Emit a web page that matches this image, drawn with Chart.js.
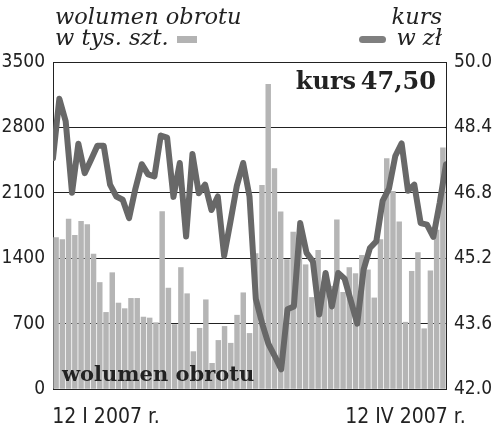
<!DOCTYPE html>
<html>
<head>
<meta charset="utf-8">
<script src="https://cdn.jsdelivr.net/npm/chart.js@4.4.1/dist/chart.umd.min.js"></script>
<style>
  html, body { margin: 0; padding: 0; background: #fff; }
  #wrap { position: relative; width: 500px; height: 434px; }
  #chart { position: absolute; left: 0; top: 0; }
  .head {
    position: absolute;
    font-family: "DejaVu Serif", serif;
    font-style: italic;
    font-size: 22.5px;
    line-height: 21px;
    color: #222;
  }
  #headLeft { left: 55px; top: 6px; }
  #headRight { right: 58px; top: 6px; text-align: right; }
  .swatch { display: inline-block; vertical-align: middle; height: 7px; }
  #swBar { width: 20px; background: #b3b3b3; margin-left: 8px; }
  #swLine { width: 27px; background: #7f7f7f; border-radius: 4px; margin-right: 10px; }
  #kursBox {
    position: absolute; right: 64px; top: 66px;
    font-family: "DejaVu Serif", serif; font-weight: bold; font-size: 24px; color: #222;
  }
  #volLabel {
    position: absolute; left: 62px; top: 361px;
    font-family: "DejaVu Serif", serif; font-weight: bold; font-size: 21px; color: #222;
  }
</style>
</head>
<body>
<div id="wrap">
  <canvas id="chart" width="500" height="434"></canvas>
  <div class="head" id="headLeft">wolumen obrotu<br>w tys. szt.<span class="swatch" id="swBar"></span></div>
  <div class="head" id="headRight">kurs<br><span class="swatch" id="swLine"></span>w zł</div>
  <div id="kursBox">kurs&#8201;47,50</div>
  <div id="volLabel">wolumen obrotu</div>
</div>
<script>
// wolumen obrotu, tys. szt. (one bar per session, 12 I - 12 IV 2007)
const volume = [
  1620, 1600, 1820, 1645, 1795, 1760, 1445, 1140, 820, 1245,
  920, 860, 970, 970, 770, 760, 710, 1900, 1080, 690,
  1300, 1020, 400, 650, 955, 275, 520, 670, 490, 790,
  1030, 595, 1450, 2180, 3260, 2360, 1895, 1385, 1680, 1650,
  1330, 980, 1485, 1150, 1100, 1810, 1035, 1300, 1235, 1430,
  1275, 975, 1600, 2465, 2115, 1790, 715, 1260, 1460, 645,
  1265, 1700, 2580,
];

// kurs w zł
const price = [
  47.65, 49.10, 48.55, 46.80, 48.00, 47.28, 47.61, 47.95, 47.95, 47.00,
  46.71, 46.63, 46.18, 46.90, 47.50, 47.25, 47.20, 48.20, 48.15, 46.70,
  47.53, 45.73, 47.75, 46.79, 47.00, 46.38, 46.71, 45.26, 46.10, 46.97,
  47.53, 46.71, 44.20, 43.60, 43.10, 42.80, 42.48, 43.95, 44.02, 46.06,
  45.33, 45.12, 43.82, 44.84, 44.02, 44.84, 44.70, 44.15, 43.60, 44.92,
  45.45, 45.61, 46.60, 46.90, 47.70, 48.01, 46.85, 47.00, 46.06, 46.02,
  45.72, 46.55, 47.50,
];

const volumeTicks = [0, 700, 1400, 2100, 2800, 3500];
const priceTicks = [42.0, 43.6, 45.2, 46.8, 48.4, 50.0];
const dateTicks = { 8: "12 I 2007 r.", 56: "12 IV 2007 r." };

const INK = "#222";
const tickFont = { family: '"DejaVu Sans Condensed", "DejaVu Sans", sans-serif', size: 19 };

new Chart(document.getElementById("chart"), {
  data: {
    labels: volume.map((_, i) => i),
    datasets: [
      {
        type: "line",
        label: "kurs",
        data: price.map((v, i) => ({ x: i, y: v })),
        xAxisID: "x2",
        yAxisID: "y2",
        borderColor: "#686868",
        borderWidth: 6,
        borderJoinStyle: "round",
        borderCapStyle: "round",
        pointRadius: 0,
        tension: 0,
        order: 0,
      },
      {
        type: "bar",
        label: "wolumen",
        data: volume,
        xAxisID: "x",
        yAxisID: "y",
        backgroundColor: "#b5b5b5",
        barThickness: 4.8,
        grouped: false,
        order: 1,
      },
    ],
  },
  options: {
    responsive: false,
    animation: false,
    layout: { padding: { top: 62, left: 0, right: 0, bottom: 0 } },
    plugins: { legend: { display: false }, tooltip: { enabled: false } },
    scales: {
      x: {
        type: "category",
        offset: true,
        grid: { display: false },
        border: { display: true, color: INK, width: 1 },
        ticks: {
          autoSkip: false,
          maxRotation: 0,
          padding: 8,
          color: INK,
          font: { ...tickFont, size: 21 },
          callback: (value, index) => dateTicks[index] || "",
        },
        afterFit: (scale) => { scale.height = 45; },
      },
      x2: {
        type: "linear",
        display: false,
        min: 0,
        max: volume.length - 1,
      },
      y: {
        position: "left",
        min: volumeTicks[0],
        max: volumeTicks[volumeTicks.length - 1],
        afterBuildTicks: (scale) => { scale.ticks = volumeTicks.map((v) => ({ value: v })); },
        grid: { color: INK, lineWidth: 1, drawTicks: false },
        border: { display: true, color: INK, width: 1 },
        ticks: { padding: 8, color: INK, font: tickFont, callback: (v) => String(v) },
        afterFit: (scale) => { scale.width = 53; },
      },
      y2: {
        position: "right",
        min: priceTicks[0],
        max: priceTicks[priceTicks.length - 1],
        afterBuildTicks: (scale) => { scale.ticks = priceTicks.map((v) => ({ value: v })); },
        grid: { display: false, drawTicks: false },
        border: { display: true, color: INK, width: 1 },
        ticks: { padding: 8, color: INK, font: tickFont, callback: (v) => Number(v).toFixed(1) },
        afterFit: (scale) => { scale.width = 54; },
      },
    },
  },
});
</script>
</body>
</html>
